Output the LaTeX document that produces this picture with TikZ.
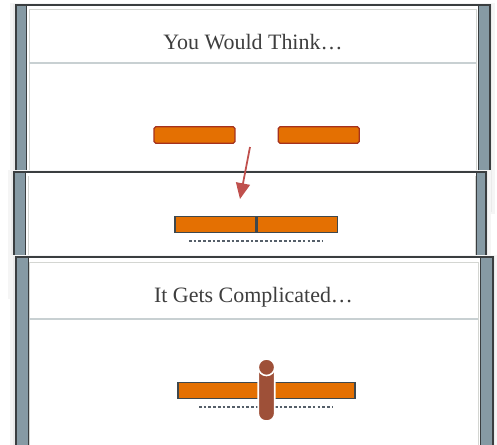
\documentclass[tikz,border=0pt]{standalone}
\usepackage{fontspec}
\setmainfont{Liberation Serif}
\usetikzlibrary{arrows.meta,positioning}
\definecolor{steelcolor}{RGB}{134,154,164}
\definecolor{edgecolor}{RGB}{58,62,64}
\definecolor{rulecolor}{RGB}{200,208,210}
\definecolor{innercolor}{RGB}{212,214,210}
\definecolor{barcolor}{RGB}{228,112,2}
\definecolor{redrim}{RGB}{165,50,30}
\definecolor{darkrim}{RGB}{62,72,78}
\definecolor{arrowcolor}{RGB}{192,80,77}
\definecolor{pincolor}{RGB}{158,80,56}
\definecolor{dotcolor}{RGB}{85,95,105}
\definecolor{textcolor}{RGB}{62,62,62}
\tikzset{
  stripln/.style={fill=steelcolor, draw=edgecolor, line width=0.4pt},
  edgeln/.style={draw=edgecolor, line width=0.8pt},
  innerln/.style={draw=innercolor, line width=0.5pt},
  sepln/.style={draw=rulecolor, line width=1.1pt},
  titletext/.style={font=\fontsize{12.5}{14}\selectfont, text=textcolor, anchor=base, inner sep=0pt},
  barbox/.style={fill=barcolor, line width=0.7pt, inner sep=0pt, minimum height=0.33cm},
  dotln/.style={dotcolor, line width=1.5pt, dash pattern=on 1.5pt off 1.2pt},
  guide/.style={-{Triangle[length=9pt,width=8pt]}, arrowcolor, line width=1pt},
  pinbody/.style={fill=pincolor, draw=white, line width=0.9pt, rounded corners=4.4pt,
    minimum width=0.33cm, minimum height=1.24cm, inner sep=0pt},
  pincap/.style={circle, fill=pincolor, draw=white, line width=0.9pt,
    minimum size=0.33cm, inner sep=0pt},
}
% slide panel: left, top, right, bottom, left strip end, right strip start
\newcommand{\slidepanel}[6]{%
  \fill[black!4] (#1-6,#2-2) rectangle (#3+5,#4+4);
  \fill[black!8] (#1-3,#2-1) rectangle (#3+2,#4+2);
  \fill[white] (#1,#2) rectangle (#3,#4);
  \draw[stripln] (#1,#2) rectangle (#5,#4);
  \draw[stripln] (#6,#2) rectangle (#3,#4);
  \draw[edgeln] (#1,#4) -- (#1,#2) -- (#3,#2) -- (#3,#4);
}

\begin{document}
\begin{tikzpicture}[x=0.02cm, y=-0.02cm]
  \useasboundingbox (0,0) rectangle (497,444);
  \clip (0,0) rectangle (497,444);
  % first slide
  \slidepanel{16}{5}{490}{210}{26}{478}
  \draw[innerln] (29,9) rectangle (476,220);
  \draw[sepln] (29,63) -- (476,63);
  \node[titletext] (ttlone) at (253,49) {You Would Think…};
  \node[barbox, draw=redrim, rounded corners=1pt, minimum width=1.62cm] (topleft) at (194.5,135) {};
  \node[barbox, draw=redrim, rounded corners=1pt, minimum width=1.62cm, right=0.84cm of topleft] (topright) {};
  \coordinate (arrtop) at (250,147);
  % second slide
  \slidepanel{14}{172}{486}{295}{25}{476}
  \draw[innerln] (28,176) -- (28,300);
  \draw[innerln] (475,176) -- (475,300);
  \coordinate (arrtip) at (240,199);
  \draw[guide] (arrtop) -- (arrtip);
  \node[barbox, draw=darkrim, minimum width=1.62cm] (lowleft) at (215.5,224.5) {};
  \node[barbox, draw=darkrim, minimum width=1.6cm, right=0pt of lowleft] (lowright) {};
  \draw[dotln] (189,241) -- (322,241);
  % third slide
  \slidepanel{16}{257}{493}{470}{28}{480}
  \draw[innerln] (29,262) rectangle (478,470);
  \draw[sepln] (29,319) -- (478,319);
  \node[titletext] (ttltwo) at (253.5,302) {It Gets Complicated…};
  \node[barbox, draw=darkrim, minimum width=3.54cm] (longbar) at (266.5,390.5) {};
  \draw[dotln] (199,407) -- (333,407);
  \node[pinbody] (pin) at (266.5,390) {};
  \node[pincap, below=0pt of pin.north] (pintop) {};
\end{tikzpicture}
\end{document}
